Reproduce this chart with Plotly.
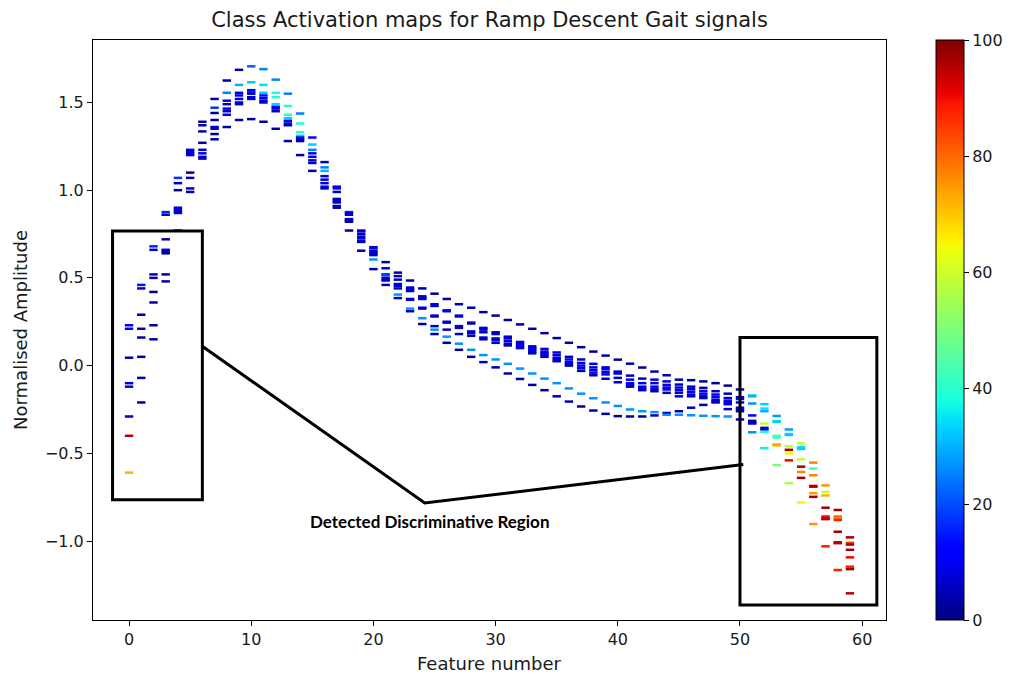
import numpy as np
import plotly.graph_objects as go

features = list(range(60))

signal_1 = [0.23, 0.46, 0.68, 0.875, 1.07, 1.23, 1.39, 1.52, 1.625, 1.686, 1.706, 1.69, 1.63, 1.55, 1.437, 1.30, 1.16, 1.02, 0.875, 0.77,
            0.675, 0.59, 0.53, 0.485, 0.44, 0.41, 0.38, 0.35, 0.33, 0.305, 0.285, 0.26, 0.235, 0.21, 0.185, 0.157, 0.13, 0.105, 0.08, 0.057,
            0.034, 0.011, -0.011, -0.034, -0.055, -0.08, -0.083, -0.09, -0.10, -0.114, -0.136, -0.17, -0.22, -0.287, -0.364, -0.443, -0.553, -0.683, -0.823, -0.979]
signal_2 = [0.21, 0.44, 0.66, 0.86, 1.04, 1.22, 1.37, 1.47, 1.555, 1.60, 1.615, 1.60, 1.555, 1.48, 1.38, 1.26, 1.13, 1.01, 0.87, 0.765,
            0.67, 0.555, 0.51, 0.445, 0.395, 0.35, 0.315, 0.285, 0.245, 0.215, 0.19, 0.165, 0.135, 0.11, 0.095, 0.075, 0.05, 0.035, 0.01, -0.01,
            -0.034, -0.057, -0.074, -0.08, -0.09, -0.108, -0.12, -0.127, -0.146, -0.16, -0.18, -0.175, -0.245, -0.316, -0.39, -0.465, -0.587, -0.72, -0.86, -1.01]
signal_3 = [0.045, 0.29, 0.52, 0.72, 1.00, 1.21, 1.335, 1.44, 1.51, 1.555, 1.57, 1.555, 1.53, 1.43, 1.33, 1.23, 1.11, 0.99, 0.86, 0.75,
            0.655, 0.52, 0.49, 0.435, 0.385, 0.34, 0.31, 0.28, 0.24, 0.205, 0.18, 0.155, 0.125, 0.10, 0.08, 0.06, 0.035, 0.015, -0.01, -0.02,
            -0.04, -0.08, -0.10, -0.10, -0.11, -0.125, -0.135, -0.145, -0.165, -0.185, -0.19, -0.216, -0.26, -0.32, -0.395, -0.475, -0.625, -0.74, -0.87, -1.02]
signal_4 = [-0.10, 0.21, 0.50, 0.66, 0.90, 1.20, 1.27, 1.40, 1.49, 1.54, 1.56, 1.54, 1.49, 1.41, 1.31, 1.21, 1.08, 0.95, 0.835, 0.735,
            0.645, 0.515, 0.465, 0.425, 0.38, 0.285, 0.25, 0.225, 0.195, 0.19, 0.155, 0.14, 0.115, 0.09, 0.07, 0.045, 0.02, 0.0, -0.025, -0.036,
            -0.045, -0.10, -0.12, -0.12, -0.125, -0.14, -0.15, -0.16, -0.18, -0.20, -0.21, -0.284, -0.33, -0.40, -0.46, -0.534, -0.686, -0.81, -0.88, -1.05]
signal_5 = [-0.12, 0.16, 0.42, 0.65, 0.89, 1.10, 1.23, 1.36, 1.465, 1.52, 1.55, 1.525, 1.475, 1.395, 1.30, 1.19, 1.06, 0.94, 0.83, 0.725,
            0.64, 0.50, 0.455, 0.38, 0.33, 0.28, 0.245, 0.215, 0.185, 0.16, 0.145, 0.125, 0.105, 0.08, 0.06, 0.035, 0.01, -0.015, -0.04, -0.05,
            -0.07, -0.11, -0.13, -0.135, -0.136, -0.155, -0.165, -0.175, -0.195, -0.21, -0.24, -0.315, -0.355, -0.41, -0.48, -0.576, -0.69, -0.86, -0.947, -1.093]
signal_6 = [-0.29, 0.05, 0.36, 0.64, 0.88, 1.07, 1.21, 1.35, 1.45, 1.50, 1.53, 1.51, 1.465, 1.38, 1.29, 1.17, 1.04, 0.93, 0.825, 0.71,
            0.63, 0.49, 0.44, 0.375, 0.325, 0.225, 0.205, 0.18, 0.17, 0.15, 0.13, 0.115, 0.10, 0.07, 0.05, 0.025, 0.0, -0.03, -0.055, -0.075,
            -0.095, -0.12, -0.14, -0.146, -0.155, -0.175, -0.175, -0.185, -0.205, -0.22, -0.25, -0.325, -0.365, -0.45, -0.50, -0.606, -0.727, -0.87, -1.007, -1.146]
signal_7 = [-0.40, -0.07, 0.23, 0.52, 0.87, 1.01, 1.19, 1.32, 1.43, 1.49, 1.52, 1.50, 1.45, 1.37, 1.28, 1.155, 1.02, 0.91, 0.82, 0.705,
            0.605, 0.485, 0.405, 0.325, 0.27, 0.205, 0.165, 0.125, 0.09, 0.06, 0.035, 0.01, -0.017, -0.045, -0.074, -0.10, -0.13, -0.16, -0.186, -0.21,
            -0.23, -0.25, -0.26, -0.265, -0.27, -0.26, -0.24, -0.224, -0.21, -0.248, -0.26, -0.33, -0.377, -0.455, -0.54, -0.64, -0.748, -0.875, -1.012, -1.16]
signal_8 = [-0.61, -0.21, 0.15, 0.48, 0.77, 0.99, 1.18, 1.29, 1.36, 1.40, 1.405, 1.39, 1.35, 1.28, 1.20, 1.11, 1.01, 0.90, 0.77, 0.655,
            0.55, 0.46, 0.385, 0.31, 0.237, 0.18, 0.13, 0.09, 0.05, 0.02, -0.01, -0.045, -0.076, -0.11, -0.14, -0.175, -0.205, -0.233, -0.256, -0.275,
            -0.288, -0.29, -0.29, -0.284, -0.28, -0.28, -0.283, -0.286, -0.288, -0.29, -0.307, -0.38, -0.47, -0.567, -0.67, -0.78, -0.903, -1.03, -1.165, -1.298]

activation_1 = [12, 14, 16, 16, 18, 10, 3, 3, 3, 3, 22, 25, 25, 25, 25, 10, 4, 10, 16, 7, 7, 3, 3, 3, 3, 3, 3, 3, 3, 3,
                3, 3, 3, 3, 3, 3, 3, 3, 3, 3, 3, 3, 3, 3, 3, 3, 3, 3, 3, 3, 5, 33, 33, 28, 28, 58, 77, 75, 97, 97]
activation_2 = [8, 6, 7, 7, 6, 7, 4, 18, 25, 30, 32, 35, 38, 38, 38, 33, 25, 8, 8, 8, 8, 7, 6, 7, 7, 7, 7, 7, 7, 7,
                7, 7, 7, 7, 7, 7, 7, 7, 7, 7, 7, 5, 5, 5, 5, 5, 5, 5, 5, 5, 8, 30, 35, 35, 35, 35, 42, 58, 80, 85]
activation_3 = [4, 3, 5, 3, 3, 5, 3, 3, 7, 8, 10, 32, 40, 40, 40, 25, 30, 7, 7, 6, 6, 8, 7, 8, 8, 8, 8, 8, 5, 5,
                5, 6, 8, 8, 8, 8, 8, 8, 8, 8, 8, 8, 8, 8, 8, 8, 8, 8, 8, 8, 10, 27, 30, 33, 32, 33, 77, 72, 78, 97]
activation_4 = [7, 3, 5, 5, 7, 7, 3, 3, 6, 10, 16, 14, 33, 33, 33, 10, 8, 5, 6, 7, 7, 20, 8, 6, 6, 7, 7, 7, 8, 8,
                8, 8, 10, 10, 10, 10, 10, 10, 10, 10, 10, 10, 10, 10, 10, 10, 10, 10, 10, 10, 8, 12, 58, 45, 58, 58, 97, 97, 88, 97]
activation_5 = [7, 3, 3, 5, 8, 3, 7, 7, 7, 8, 8, 10, 10, 10, 10, 8, 7, 6, 7, 8, 8, 8, 7, 7, 7, 5, 5, 5, 7, 7,
                7, 7, 7, 7, 7, 7, 7, 7, 7, 7, 7, 7, 7, 7, 7, 6, 6, 6, 6, 6, 7, 5, 5, 42, 97, 97, 95, 90, 97, 90]
activation_6 = [6, 3, 3, 4, 7, 3, 8, 7, 7, 7, 7, 5, 8, 8, 8, 7, 8, 5, 5, 5, 5, 6, 6, 6, 5, 6, 6, 6, 6, 6,
                6, 5, 5, 5, 5, 5, 5, 5, 5, 5, 5, 5, 5, 5, 5, 5, 5, 5, 7, 7, 8, 3, 7, 75, 65, 77, 75, 92, 97, 88]
activation_7 = [95, 3, 3, 3, 8, 4, 7, 3, 8, 5, 5, 5, 5, 5, 5, 5, 10, 4, 4, 4, 27, 7, 27, 27, 27, 27, 27, 27, 27, 27,
                27, 27, 27, 27, 27, 27, 27, 27, 27, 27, 27, 27, 27, 27, 5, 4, 4, 4, 4, 4, 6, 6, 38, 72, 90, 97, 97, 95, 95, 97]
activation_8 = [72, 3, 3, 3, 3, 4, 5, 3, 3, 3, 3, 3, 3, 3, 3, 3, 4, 3, 3, 3, 3, 3, 6, 5, 3, 3, 3, 3, 3, 3,
                3, 3, 3, 3, 3, 3, 3, 3, 3, 3, 3, 3, 3, 6, 27, 27, 27, 27, 27, 27, 5, 27, 36, 50, 55, 65, 75, 88, 88, 95]

signals = [signal_1, signal_2, signal_3, signal_4, signal_5, signal_6, signal_7, signal_8]
activations = [activation_1, activation_2, activation_3, activation_4, activation_5, activation_6, activation_7, activation_8]

x_ticks = [0, 10, 20, 30, 40, 50, 60]
y_ticks = [-1.0, -0.5, 0.0, 0.5, 1.0, 1.5]
cbar_ticks = [0, 20, 40, 60, 80, 100]

# annotation geometry (data coordinates)
left_box = dict(x0=-1.35, x1=6.0, y0=-0.765, y1=0.767)
right_box = dict(x0=50.0, x1=61.2, y0=-1.365, y1=0.16)
callout = [(6.05, 0.108), (24.2, -0.783), (50.27, -0.563)]
label_pos = (24.6, -0.887)

# matplotlib "jet" colormap
def jet_scale():
    r = [(0, 0), (0.35, 0), (0.66, 1), (0.89, 1), (1, 0.5)]
    g = [(0, 0), (0.125, 0), (0.375, 1), (0.64, 1), (0.91, 0), (1, 0)]
    b = [(0, 0.5), (0.11, 1), (0.34, 1), (0.65, 0), (1, 0)]
    pts = np.linspace(0, 1, 101)
    def ch(seg):
        return np.interp(pts, [s[0] for s in seg], [s[1] for s in seg])
    R, G, B = ch(r), ch(g), ch(b)
    return [[float(p), f"rgb({int(round(R[i]*255))},{int(round(G[i]*255))},{int(round(B[i]*255))})"]
            for i, p in enumerate(pts)]

fig = go.Figure()
for s, a in zip(signals, activations):
    fig.add_trace(go.Scatter(
        x=features, y=s, mode="markers", showlegend=False,
        marker=dict(symbol="line-ew-open", size=6, color=a, coloraxis="coloraxis",
                    line=dict(width=2.5)),
        hoverinfo="x+y"))

font_main = "DejaVu Sans"
txt = "#1a1a1a"

fig.update_layout(
    width=1024, height=687,
    margin=dict(l=93, r=138, t=40, b=67),
    paper_bgcolor="white", plot_bgcolor="white",
    font=dict(family=font_main, size=16, color=txt),
    title=dict(text="Class Activation maps for Ramp Descent Gait signals",
               x=0.5, xref="paper", y=1 - 20 / 687, yref="container",
               xanchor="center", yanchor="middle",
               font=dict(family=font_main, size=21, color=txt)),
    coloraxis=dict(
        colorscale=jet_scale(), cmin=0, cmax=100,
        colorbar=dict(
            thickness=28, thicknessmode="pixels",
            len=1, lenmode="fraction", y=0.5, yanchor="middle", ypad=0,
            x=(936 - 93) / 793, xanchor="left", xpad=0,
            outlinewidth=1, outlinecolor="black",
            tickvals=cbar_ticks, ticks="outside", ticklen=5, tickwidth=1, tickcolor="black",
            tickfont=dict(family=font_main, size=16, color=txt))),
    xaxis=dict(range=[-2.95, 61.95], tickvals=x_ticks, ticks="outside", ticklen=5,
               tickcolor="black", showline=True, linecolor="black", linewidth=1, mirror=True,
               showgrid=False, zeroline=False, tickfont=dict(size=16)),
    yaxis=dict(range=[-1.45, 1.856], tickvals=y_ticks, tickformat=".1f", ticks="outside", ticklen=5,
               tickcolor="black", showline=True, linecolor="black", linewidth=1, mirror=True,
               showgrid=False, zeroline=False, tickfont=dict(size=16)),
)

fig.add_annotation(text="Feature number", xref="paper", yref="paper", x=0.5, y=(620 - 663) / 580,
                   showarrow=False, xanchor="center", yanchor="middle",
                   font=dict(family=font_main, size=18, color=txt))
fig.add_annotation(text="Normalised Amplitude", xref="paper", yref="paper", x=(20 - 93) / 793, y=0.5,
                   textangle=-90, showarrow=False, xanchor="center", yanchor="middle",
                   font=dict(family=font_main, size=18, color=txt))

for box in (left_box, right_box):
    fig.add_shape(type="rect", xref="x", yref="y", line=dict(color="black", width=3),
                  fillcolor="rgba(0,0,0,0)", **box)

path = "M " + " L ".join(f"{px},{py}" for px, py in callout)
fig.add_shape(type="path", xref="x", yref="y", path=path, line=dict(color="black", width=3))

fig.add_annotation(text="<b>Detected Discriminative Region</b>", x=label_pos[0], y=label_pos[1],
                   xref="x", yref="y", showarrow=False,
                   font=dict(family="Lato", size=17, color="black"))

fig.write_html("out.html")
